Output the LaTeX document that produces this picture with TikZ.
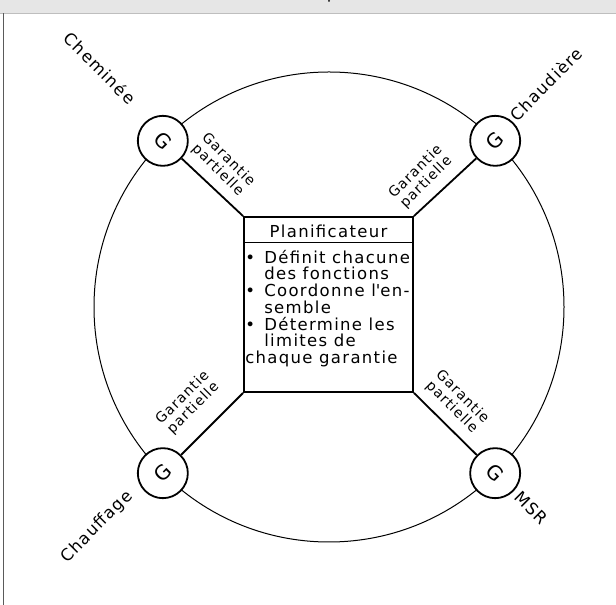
\documentclass[tikz,border=0pt]{standalone}
\usepackage{fontspec}
\setmainfont{DejaVu Sans}[LetterSpace=8]
\usetikzlibrary{positioning,calc}
\definecolor{barfill}{RGB}{230,230,230}
\definecolor{barline}{RGB}{190,190,190}
\definecolor{frameline}{RGB}{90,90,90}
\newcommand{\pitem}[1]{\makebox[19pt][l]{\textbullet}#1}
\newcommand{\pcont}[1]{\hspace*{19pt}#1}

\begin{document}
\begin{tikzpicture}[x=1pt,y=1pt,
 gnode/.style={draw,circle,line width=1.8pt,minimum size=50pt,inner sep=0pt,fill=white,font=\fontsize{20}{20}\selectfont},
 planbox/.style={draw,line width=1.8pt,minimum width=169pt,minimum height=175pt,fill=white},
 planbody/.style={align=left,inner sep=0pt,font=\fontsize{16.5}{16.7}\selectfont},
 link/.style={line width=1.8pt},
 ring/.style={line width=1pt},
 glabel/.style={align=center,inner sep=0pt,font=\fontsize{14}{15}\selectfont},
 place/.style={inner sep=0pt,font=\fontsize{16.5}{16.5}\selectfont}]
\useasboundingbox (0,0) rectangle (616,605);
% bar and frame
\fill[barfill] (0,592) rectangle (616,605);
\draw[barline] (0,592) -- (616,592);
\draw[frameline,line width=1pt] (3,0) -- (3,592);
\fill (329,604) circle[radius=1pt];

\coordinate (c) at (329,298);
\draw[ring] (c) circle[radius=235];
\node[planbox] (plan) at (328.5,300.5) {};
\node[anchor=base,inner xsep=0pt,inner ysep=5pt,font=\fontsize{16.5}{17}\selectfont] (title) at ($(plan.north)+(0,-21)$) {Planificateur};
\draw[line width=0.8pt] (title.south -| plan.west) -- (title.south -| plan.east);
\node[planbody,anchor=north west] (body) at ($(plan.north west)+(2,-33)$) {\rule{0pt}{14pt}\pitem{Définit chacune}\\
 \pcont{des fonctions}\\
 \pitem{Coordonne l\textquotesingle en-}\\
 \pcont{semble}\\
 \pitem{Détermine les}\\
 \pcont{limites de}\\
 chaque garantie};

% guarantees
\node[gnode,rotate=-45] (gtl) at ($(c)+(135:235pt)$) {G};
\node[gnode,rotate=45] (gtr) at ($(c)+(45:235pt)$) {G};
\node[gnode,rotate=45] (gbl) at ($(c)+(225:235pt)$) {G};
\node[gnode,rotate=-45] (gbr) at ($(c)+(315:235pt)$) {G};
\draw[link] (plan.north west) -- (gtl);
\draw[link] (plan.north east) -- (gtr);
\draw[link] (plan.south west) -- (gbl);
\draw[link] (plan.south east) -- (gbr);
\node[glabel,rotate=-45] (ltl) at (223,440) {Garantie\\partielle};
\node[glabel,rotate=45] (ltr) at (421,428) {Garantie\\partielle};
\node[glabel,rotate=45] (lbl) at (188,202) {Garantie\\partielle};
\node[glabel,rotate=-45] (lbr) at (457,203) {Garantie\\partielle};
\node[place,rotate=-45] (chem) at (100,537) {Cheminée};
\node[place,rotate=45] (chaud) at (546,521) {Chaudière};
\node[place,rotate=45] (chauf) at (97,78) {Chauffage};
\node[place,rotate=-45] (msr) at (531,97) {MSR};
\end{tikzpicture}
\end{document}
